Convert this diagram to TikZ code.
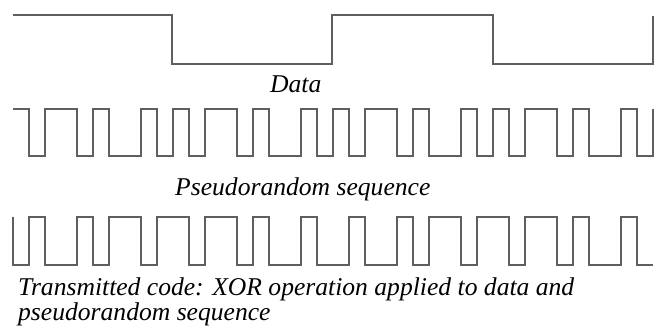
\documentclass[tikz,border=0pt]{standalone}
\usepackage{fontspec}
\setmainfont{Liberation Serif}
\definecolor{wave}{RGB}{95,95,95}
\begin{document}
\begin{tikzpicture}[x=1pt,y=-1pt,
  signal/.style={draw=wave,line width=1.6pt,line join=miter},
  caption/.style={inner sep=0pt,anchor=base west,text=black,font=\fontsize{25.6}{25.6}\selectfont\itshape}]
\useasboundingbox (0,0) rectangle (659,327);
% Data
\draw[signal] (13,15) -| (172,64) -| (332,15) -| (493,64) -| (653,16);
\node[caption] (data) at (270,92) {Data};
% Pseudorandom sequence
\draw[signal] (13,109) -| (29,156) -| (45,109) -| (77,156) -| (93,109) -| (109,156) -| (141,109) -| (157,156) -| (173,109) -| (189,156) -| (205,109) -| (237,156) -| (253,109) -| (269,156) -| (301,109) -| (317,156) -| (333,109) -| (349,156) -| (365,109) -| (397,156) -| (413,109) -| (429,156) -| (461,109) -| (477,156) -| (493,109) -| (509,156) -| (525,109) -| (557,156) -| (573,109) -| (589,156) -| (621,109) -| (637,156) -| (653,109);
\node[caption] (pn) at (175,195) {Pseudorandom sequence};
% Transmitted code
\draw[signal] (13,217) -- (13,265) -| (29,217) -| (45,265) -| (77,217) -| (93,265) -| (109,217) -| (141,265) -| (157,217) -| (189,265) -| (205,217) -| (237,265) -| (253,217) -| (269,265) -| (301,217) -| (317,265) -| (349,217) -| (365,265) -| (397,217) -| (413,265) -| (429,217) -| (461,265) -| (477,217) -| (509,265) -| (525,217) -| (557,265) -| (573,217) -| (589,265) -| (621,217) -| (637,265) -- (653,265);
\node[caption] (tx1) at (18,295) {Transmitted code: XOR operation applied to data and};
\node[caption] (tx2) at (18,320) {pseudorandom sequence};
\end{tikzpicture}
\end{document}
